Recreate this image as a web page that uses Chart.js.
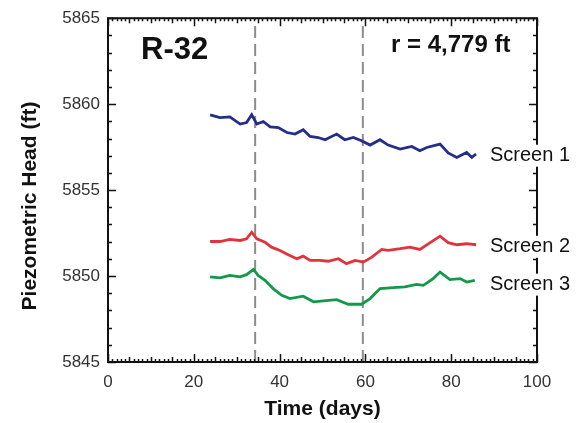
<!DOCTYPE html>
<html>
<head>
<meta charset="utf-8">
<script src="https://cdn.jsdelivr.net/npm/chart.js@4"></script>
<style>
  html, body { margin: 0; padding: 0; background: #fff; }
  #wrap { width: 579px; height: 423px; }
</style>
</head>
<body>
<div id="wrap"><canvas id="chart"></canvas></div>
<script>
const s1Days = [23.8, 26.1, 28.4, 30.8, 32.3, 33.5, 34.7, 36.2, 37.8, 39.7, 41.7, 43.6, 45.5, 47.1, 49.0, 50.6, 53.3, 55.2, 57.2, 59.1, 61.1, 63.4, 65.3, 68.1, 70.8, 72.7, 74.3, 77.4, 79.3, 81.3, 83.6, 84.8, 85.8]
const s1Head = [5859.38, 5859.22, 5859.26, 5858.84, 5858.93, 5859.38, 5858.84, 5858.99, 5858.68, 5858.64, 5858.35, 5858.26, 5858.51, 5858.12, 5858.06, 5857.93, 5858.26, 5857.93, 5858.06, 5857.87, 5857.62, 5857.93, 5857.62, 5857.39, 5857.54, 5857.29, 5857.48, 5857.68, 5857.16, 5856.90, 5857.19, 5856.90, 5857.10]

const s2Days = [23.8, 26.1, 28.4, 30.8, 32.3, 33.5, 34.7, 36.6, 38.1, 40.1, 42.0, 44.0, 45.5, 47.1, 49.4, 51.3, 53.7, 55.6, 57.6, 59.5, 61.5, 63.8, 65.3, 66.9, 68.1, 70.4, 72.7, 75.1, 77.4, 79.3, 81.3, 83.6, 85.8]
const s2Head = [5852.01, 5852.01, 5852.13, 5852.07, 5852.17, 5852.55, 5852.17, 5851.97, 5851.68, 5851.49, 5851.24, 5851.01, 5851.16, 5850.91, 5850.91, 5850.86, 5851.01, 5850.72, 5850.91, 5850.81, 5851.10, 5851.55, 5851.49, 5851.55, 5851.59, 5851.68, 5851.55, 5851.94, 5852.32, 5851.94, 5851.82, 5851.88, 5851.82]

const s3Days = [23.8, 26.1, 28.4, 30.8, 32.3, 33.9, 35.0, 36.6, 38.5, 40.5, 42.4, 45.5, 47.9, 50.2, 53.3, 56.0, 59.1, 61.1, 63.4, 66.5, 69.2, 71.9, 73.5, 75.8, 77.4, 79.7, 82.1, 83.6, 85.5]
const s3Head = [5849.95, 5849.89, 5850.04, 5849.95, 5850.08, 5850.39, 5850.04, 5849.75, 5849.27, 5848.88, 5848.69, 5848.83, 5848.50, 5848.55, 5848.63, 5848.36, 5848.36, 5848.69, 5849.27, 5849.33, 5849.37, 5849.52, 5849.46, 5849.85, 5850.23, 5849.79, 5849.85, 5849.65, 5849.75]

const seriesNames = ["Screen 1", "Screen 2", "Screen 3"]
const labelHeads = [5857.0, 5851.7, 5849.5]
const markerDays = [34.3, 59.4]
const xTicks = [0, 20, 40, 60, 80, 100]
const yTicks = [5845, 5850, 5855, 5860, 5865]

const FONT = "'Liberation Sans', Arial, sans-serif"
const colors = ["#252d88", "#e0333b", "#14994b"]

const zip = (xs, ys) => xs.map((x, i) => ({x: x, y: ys[i]}))

const datasets = [
  [s1Days, s1Head], [s2Days, s2Head], [s3Days, s3Head]
].map((s, i) => ({
  label: seriesNames[i],
  data: zip(s[0], s[1]),
  borderColor: colors[i],
  borderWidth: 2.8,
  pointRadius: 0,
  showLine: true,
  tension: 0,
  order: 0
}))

markerDays.forEach(d => {
  datasets.push({
    label: "marker",
    data: [{x: d, y: yTicks[0]}, {x: d, y: yTicks[yTicks.length - 1]}],
    borderColor: "#8c8c8c",
    borderWidth: 2,
    borderDash: [12, 6],
    pointRadius: 0,
    showLine: true,
    order: 10
  })
})

// frame, inside ticks, y title and the text labels
const decor = {
  id: "decor",
  afterDraw(chart) {
    const c = chart.ctx
    const a = chart.chartArea
    const xs = chart.scales.x, ys = chart.scales.y
    c.save()
    c.strokeStyle = "#111"
    c.lineWidth = 1.5
    c.beginPath()
    for (let d = 0; d <= 100; d++) {
      const len = d % 20 == 0 ? 8 : (d % 5 == 0 ? 5 : 3)
      const px = Math.round(xs.getPixelForValue(d)) + 0.5
      c.moveTo(px, a.bottom); c.lineTo(px, a.bottom - len)
      c.moveTo(px, a.top); c.lineTo(px, a.top + len)
    }
    for (let v = 5845; v <= 5865; v++) {
      const len = v % 5 == 0 ? 8 : 4
      const py = Math.round(ys.getPixelForValue(v)) + 0.5
      c.moveTo(a.left, py); c.lineTo(a.left + len, py)
      c.moveTo(a.right, py); c.lineTo(a.right - len, py)
    }
    c.stroke()
    c.lineWidth = 2
    c.strokeRect(a.left, a.top, a.right - a.left, a.bottom - a.top)

    c.font = "20px " + FONT
    c.textBaseline = "middle"
    c.textAlign = "left"
    seriesNames.forEach((name, i) => {
      const py = ys.getPixelForValue(labelHeads[i])
      const w = c.measureText(name).width
      c.fillStyle = "#fff"
      c.fillRect(488, py - 11, w + 6, 22)
      c.fillStyle = "#111"
      c.fillText(name, 490, py)
    })

    c.font = "bold 31px " + FONT
    c.fillText("R-32", 141, 50)
    c.font = "bold 24px " + FONT
    c.fillText("r = 4,779 ft", 391, 45)

    c.translate(30, 206)
    c.rotate(-Math.PI / 2)
    c.textAlign = "center"
    c.font = "bold 21px " + FONT
    c.fillText("Piezometric Head (ft)", 0, 0)
    c.restore()
  }
}

new Chart(document.getElementById("chart"), {
  type: "scatter",
  data: {datasets: datasets},
  options: {
    responsive: true,
    maintainAspectRatio: false,
    animation: false,
    events: [],
    layout: {padding: {top: 17, right: 42, bottom: 0, left: 0}},
    plugins: {legend: {display: false}, tooltip: {enabled: false}},
    scales: {
      x: {
        type: "linear", min: 0, max: 100,
        afterBuildTicks: s => { s.ticks = xTicks.map(v => ({value: v})) },
        afterFit: s => { s.height = 61 },
        grid: {display: false, drawTicks: false},
        border: {display: false},
        ticks: {color: "#333", padding: 10, font: {family: FONT, size: 17}},
        title: {display: true, text: "Time (days)", color: "#111",
          font: {family: FONT, size: 21, weight: "bold"}, padding: {top: 0, bottom: 1}}
      },
      y: {
        type: "linear", min: 5845, max: 5865,
        afterBuildTicks: s => { s.ticks = yTicks.map(v => ({value: v})) },
        afterFit: s => { s.width = 108 },
        grid: {display: false, drawTicks: false},
        border: {display: false},
        ticks: {color: "#333", padding: 8, font: {family: FONT, size: 17}, callback: v => String(v)}
      }
    }
  },
  plugins: [decor]
})
</script>
</body>
</html>
